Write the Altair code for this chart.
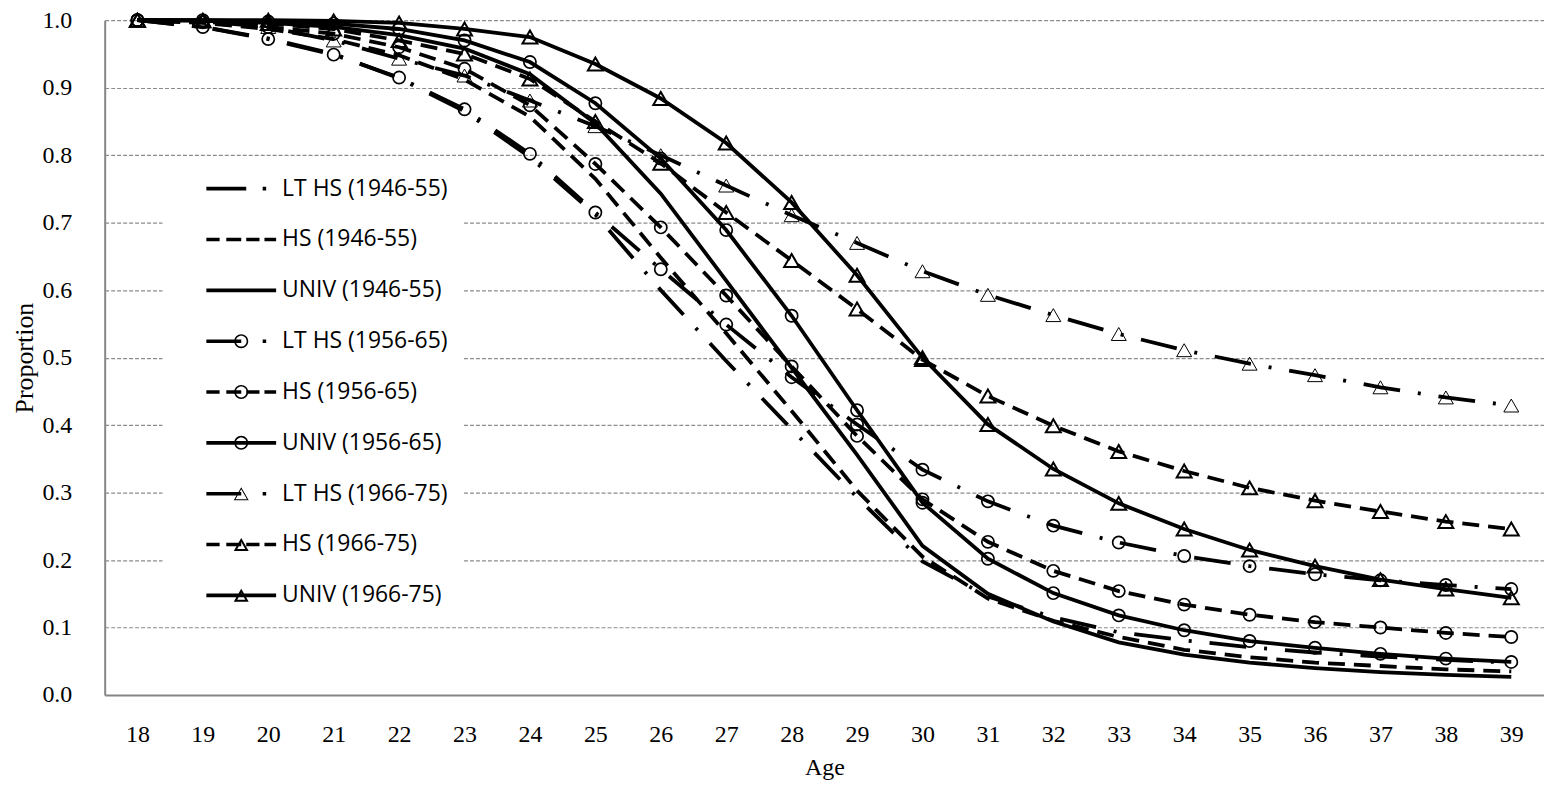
import altair as alt
import pandas as pd
import math

# ---------------- data ----------------
ages = list(range(18, 40))

series_names = [
    "LT HS (1946-55)", "HS (1946-55)", "UNIV (1946-55)",
    "LT HS (1956-65)", "HS (1956-65)", "UNIV (1956-65)",
    "LT HS (1966-75)", "HS (1966-75)", "UNIV (1966-75)",
]

lt_4655 = [1.000, 0.990, 0.973, 0.950, 0.914, 0.865, 0.797, 0.712, 0.600, 0.495, 0.394,
           0.293, 0.198, 0.146, 0.115, 0.093, 0.081, 0.071, 0.063, 0.057, 0.052, 0.048]
hs_4655 = [1.000, 0.996, 0.987, 0.972, 0.948, 0.912, 0.857, 0.765, 0.648, 0.536, 0.421,
           0.303, 0.205, 0.143, 0.110, 0.086, 0.067, 0.056, 0.048, 0.043, 0.038, 0.035]
univ_4655 = [1.000, 0.999, 0.996, 0.990, 0.978, 0.958, 0.920, 0.847, 0.743, 0.614, 0.485,
             0.356, 0.221, 0.150, 0.109, 0.078, 0.060, 0.048, 0.040, 0.034, 0.030, 0.027]
lt_5665 = [1.000, 0.990, 0.972, 0.949, 0.915, 0.868, 0.802, 0.715, 0.631, 0.549, 0.471,
           0.401, 0.334, 0.287, 0.251, 0.226, 0.206, 0.191, 0.179, 0.170, 0.163, 0.157]
hs_5665 = [1.000, 0.997, 0.990, 0.980, 0.960, 0.928, 0.874, 0.787, 0.693, 0.592, 0.487,
           0.384, 0.290, 0.227, 0.184, 0.154, 0.134, 0.119, 0.108, 0.100, 0.092, 0.086]
univ_5665 = [1.000, 1.000, 0.998, 0.995, 0.987, 0.970, 0.938, 0.877, 0.795, 0.689, 0.562,
             0.422, 0.285, 0.202, 0.151, 0.118, 0.096, 0.080, 0.070, 0.061, 0.054, 0.049]
lt_6675 = [1.000, 0.998, 0.990, 0.970, 0.943, 0.918, 0.881, 0.843, 0.800, 0.755, 0.711,
           0.670, 0.628, 0.593, 0.563, 0.535, 0.511, 0.491, 0.474, 0.456, 0.441, 0.429]
hs_6675 = [1.000, 0.999, 0.995, 0.987, 0.970, 0.950, 0.913, 0.850, 0.788, 0.715, 0.644,
           0.572, 0.497, 0.443, 0.399, 0.361, 0.332, 0.307, 0.288, 0.272, 0.257, 0.246]
univ_6675 = [1.000, 1.000, 1.000, 0.999, 0.996, 0.987, 0.975, 0.935, 0.884, 0.818, 0.730,
             0.622, 0.500, 0.401, 0.335, 0.284, 0.246, 0.215, 0.191, 0.171, 0.157, 0.144]

y_ticks = [0.0, 0.1, 0.2, 0.3, 0.4, 0.5, 0.6, 0.7, 0.8, 0.9, 1.0]

all_values = [lt_4655, hs_4655, univ_4655, lt_5665, hs_5665, univ_5665,
              lt_6675, hs_6675, univ_6675]

rows = []
for name, vals in zip(series_names, all_values):
    for a, v in zip(ages, vals):
        rows.append({"age": a, "value": v, "series": name})
df = pd.DataFrame(rows)

# ---------------- styles ----------------
LT_DASH = [37, 18, 3, 18]
HS_DASH = [17, 9]

lt_series = ["LT HS (1946-55)", "LT HS (1956-65)", "LT HS (1966-75)"]
hs_series = ["HS (1946-55)", "HS (1956-65)", "HS (1966-75)"]
univ_series = ["UNIV (1946-55)", "UNIV (1956-65)", "UNIV (1966-75)"]

circle_series = ["LT HS (1956-65)", "HS (1956-65)", "UNIV (1956-65)"]
tri_bold_series = ["HS (1966-75)", "UNIV (1966-75)"]
tri_thin_series = ["LT HS (1966-75)"]

# legend symbol paths: symbolSize 900 -> 1 unit = 15 px; paths span +-35 px
U = 15.0


def f(v):
    return f"{v / U:.4f}"


def rect(x0, x1, h=3.6):
    return f"M{f(x0)},{f(-h / 2)}H{f(x1)}V{f(h / 2)}H{f(x0)}Z"


def ring(r_out=7.0, w=1.6):
    r_in = r_out - w
    o = (f"M{f(r_out)},0A{f(r_out)},{f(r_out)} 0 1,1 {f(-r_out)},0"
         f"A{f(r_out)},{f(r_out)} 0 1,1 {f(r_out)},0Z")
    i = (f"M{f(r_in)},0A{f(r_in)},{f(r_in)} 0 1,0 {f(-r_in)},0"
         f"A{f(r_in)},{f(r_in)} 0 1,0 {f(r_in)},0Z")
    return o + i


def tri(w):
    pts = [(0.0, -6.5), (7.5, 6.5), (-7.5, 6.5)]
    a = math.dist(pts[1], pts[2])
    b = math.dist(pts[0], pts[2])
    c = math.dist(pts[0], pts[1])
    s = a + b + c
    ix = (a * pts[0][0] + b * pts[1][0] + c * pts[2][0]) / s
    iy = (a * pts[0][1] + b * pts[1][1] + c * pts[2][1]) / s
    area = abs((pts[1][0] - pts[0][0]) * (pts[2][1] - pts[0][1]) -
               (pts[2][0] - pts[0][0]) * (pts[1][1] - pts[0][1])) / 2
    r = 2 * area / s
    k = (r - w) / r
    inner = [(ix + (x - ix) * k, iy + (y - iy) * k) for x, y in pts]
    o = "M" + "L".join(f"{f(x)},{f(y)}" for x, y in pts) + "Z"
    inn = "M" + "L".join(f"{f(x)},{f(y)}" for x, y in reversed(inner)) + "Z"
    return o + inn


lt_line = rect(-35, 5) + rect(21.5, 25)
hs_line = rect(-35, -21.7) + rect(-15, 0) + rect(5, 18.3) + rect(23.3, 35)
univ_line = rect(-35, 35)
lt_half = rect(-35, 0) + rect(21.5, 25)

legend_paths = [
    lt_line, hs_line, univ_line,
    lt_half + ring(), hs_line + ring(), univ_line + ring(),
    lt_half + tri(1.0), hs_line + tri(2.0), univ_line + tri(2.0),
]

# ---------------- encodings ----------------
x_enc = alt.X(
    "age:O",
    scale=alt.Scale(type="point", padding=0.5),
    axis=alt.Axis(
        title="Age", labelAngle=0, ticks=False, tickSize=0, grid=False,
        domainColor="#868686", domainWidth=2,
        labelFont="Liberation Serif", labelFontSize=24, labelColor="black",
        labelPadding=28,
        titleFont="Liberation Serif", titleFontSize=24, titleFontWeight="normal",
        titleColor="black", titlePadding=9,
    ),
)
y_enc = alt.Y(
    "value:Q",
    scale=alt.Scale(domain=[0, 1], nice=False),
    axis=alt.Axis(
        title="Proportion", values=y_ticks, format=".1f",
        grid=True, gridColor="#8c8c8c", gridDash=[4, 2], gridWidth=1.2,
        ticks=False, tickSize=0,
        domainColor="#868686", domainWidth=2,
        labelFont="Liberation Serif", labelFontSize=24, labelColor="black",
        labelPadding=33,
        titleFont="Liberation Serif", titleFontSize=26, titleFontWeight="normal",
        titleColor="black", titlePadding=4,
    ),
)

base = alt.Chart(df)


def line_layer(names, dash=None):
    kw = dict(color="black", strokeWidth=3.8)
    if dash is not None:
        kw["strokeDash"] = dash
    return base.transform_filter(
        alt.FieldOneOfPredicate(field="series", oneOf=names)
    ).mark_line(**kw).encode(x=x_enc, y=y_enc, detail="series:N")


lines_lt = line_layer(lt_series, LT_DASH)
lines_hs = line_layer(hs_series, HS_DASH)
lines_univ = line_layer(univ_series)

circles = base.transform_filter(
    alt.FieldOneOfPredicate(field="series", oneOf=circle_series)
).mark_point(shape="circle", filled=False, size=150, strokeWidth=1.7,
             color="black", opacity=1).encode(x=x_enc, y=y_enc)

tri_bold = base.transform_filter(
    alt.FieldOneOfPredicate(field="series", oneOf=tri_bold_series)
).mark_point(shape="triangle-up", filled=False, size=225, strokeWidth=2.0,
             color="black", opacity=1).encode(x=x_enc, y=y_enc)

tri_thin = base.transform_filter(
    alt.FieldOneOfPredicate(field="series", oneOf=tri_thin_series)
).mark_point(shape="triangle-up", filled=False, size=225, strokeWidth=1.0,
             color="black", opacity=1).encode(x=x_enc, y=y_enc)

legend_layer = base.mark_point(filled=True, opacity=0, color="black").encode(
    x=x_enc, y=y_enc,
    shape=alt.Shape(
        "series:N",
        scale=alt.Scale(domain=series_names, range=legend_paths),
        legend=alt.Legend(
            title=None, orient="none", legendX=58, legendY=140,
            padding=14, fillColor="white",
            symbolSize=900, symbolOffset=50, labelOffset=26,
            rowPadding=24,
            symbolOpacity=1, symbolFillColor="black", symbolStrokeWidth=0,
            labelFont="Open Sans", labelFontSize=23, labelColor="black",
            labelLimit=400,
        ),
    ),
)

chart = alt.layer(lines_lt, lines_hs, lines_univ, circles, tri_bold, tri_thin,
                  legend_layer).properties(
    width=1444, height=677,
    padding={"left": 97, "top": 11, "right": 0, "bottom": 84},
    autosize=alt.AutoSizeParams(type="none"),
).configure_view(stroke=None)

chart.save("out.html", embed_options={"renderer": "svg", "actions": False})
